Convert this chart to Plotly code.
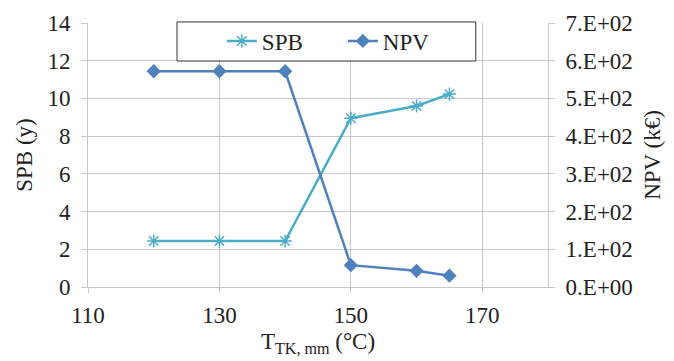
import plotly.graph_objects as go

temps = [120, 130, 140, 150, 160, 165]
spb = [2.44, 2.44, 2.44, 8.95, 9.6, 10.23]
npv = [572, 572, 572, 58, 43, 30]

npv_tickvals = [0, 100, 200, 300, 400, 500, 600, 700]
npv_ticktext = ["0.E+00", "1.E+02", "2.E+02", "3.E+02", "4.E+02", "5.E+02", "6.E+02", "7.E+02"]

FAM = "Liberation Serif"
tickfont = dict(family=FAM, size=23, color="#222")
titlefont = dict(family=FAM, size=23, color="#222")
grid = "#C8C8C8"

fig = go.Figure()
fig.add_trace(go.Scatter(x=temps, y=spb, name="SPB", mode="lines+markers",
                         line=dict(color="#4BACC6", width=2.5),
                         marker=dict(symbol="asterisk-open", size=11, color="#4BACC6",
                                     line=dict(color="#4BACC6", width=1.5))))
fig.add_trace(go.Scatter(x=temps, y=npv, name="NPV", mode="lines+markers", yaxis="y2",
                         line=dict(color="#4F81BD", width=2.5),
                         marker=dict(symbol="diamond", size=11, color="#4F81BD")))

fig.update_layout(
    width=674, height=361,
    margin=dict(l=88, r=126, t=23, b=74),
    paper_bgcolor="white", plot_bgcolor="white",
    font=dict(family=FAM, size=23, color="#222"),
    showlegend=True,
    legend=dict(orientation="h", x=0.291, xanchor="left", y=0.932, yanchor="middle",
                borderwidth=0, bgcolor="rgba(0,0,0,0)",
                entrywidth=76, font=dict(family=FAM, size=23, color="#222"), itemwidth=30),
    shapes=[dict(type="rect", xref="paper", yref="paper", x0=0.1935, x1=0.843,
                 y0=0.856, y1=1.004, line=dict(color="#333", width=1),
                 fillcolor="white", layer="above")],
    xaxis=dict(range=[110, 180], tickvals=[110, 130, 150, 170], showgrid=True,
               gridcolor=grid, zeroline=False, ticks="outside", tickcolor=grid,
               ticklen=5, showline=True, linecolor=grid, tickfont=tickfont,
               ticklabelstandoff=2, automargin=False,
               title=dict(text="T<sub>TK, mm</sub> (°C)", standoff=6, font=titlefont)),
    yaxis=dict(range=[0, 14], dtick=2, showgrid=True, gridcolor=grid, zeroline=False,
               ticks="outside", tickcolor=grid, ticklen=6, showline=True, linecolor=grid,
               tickfont=tickfont, ticklabelstandoff=6, automargin=False,
               title=dict(text="SPB (y)", standoff=8, font=titlefont)),
    yaxis2=dict(range=[0, 700], overlaying="y", side="right", tickvals=npv_tickvals,
                ticktext=npv_ticktext, showgrid=False, zeroline=False,
                ticks="outside", tickcolor=grid, ticklen=6, showline=True, linecolor=grid,
                tickfont=tickfont, ticklabelstandoff=6, automargin=False,
                title=dict(text="NPV (k€)", standoff=12, font=titlefont)),
)

fig.write_html("out.html")
